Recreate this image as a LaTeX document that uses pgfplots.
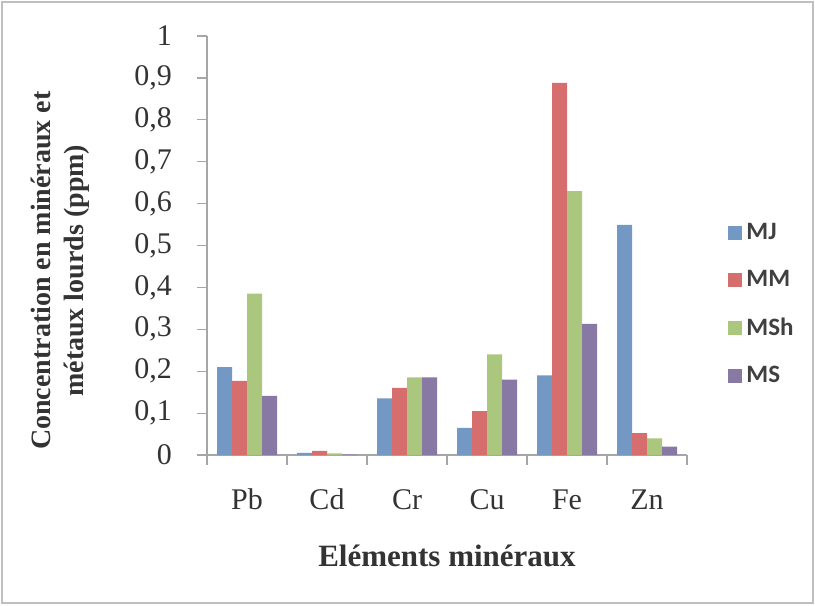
\documentclass[border=0pt]{standalone}
\usepackage{fontspec}
\setmainfont{Liberation Serif}
\newfontfamily\legfont{Carlito}
\usepackage{pgfplots}
\pgfplotsset{compat=1.18}
\definecolor{cMJ}{HTML}{7398C4}
\definecolor{cMM}{HTML}{D66E6E}
\definecolor{cMSh}{HTML}{AAC77D}
\definecolor{cMS}{HTML}{8879A4}
\begin{document}
\begin{tikzpicture}
\begin{axis}[
  scale only axis, width=240pt, height=209.5pt,
  clip=false,
  ymin=0, ymax=1, xmin=-0.5, xmax=5.5,
  ybar=0pt, bar width=7.5pt,
  axis lines*=left,
  axis line style={draw=gray!70, line width=0.6pt},
  tick style={draw=gray!70, line width=0.6pt},
  tick align=outside,
  major tick length=5pt,
  ytick={0,0.1,0.2,0.3,0.4,0.5,0.6,0.7,0.8,0.9,1},
  yticklabels={0,{0,1},{0,2},{0,3},{0,4},{0,5},{0,6},{0,7},{0,8},{0,9},1},
  xtick={-0.5,0.5,1.5,2.5,3.5,4.5,5.5},
  xticklabels={},
  extra x ticks={0,1,2,3,4,5},
  extra x tick labels={Pb,Cd,Cr,Cu,Fe,Zn},
  extra x tick style={major tick length=0pt},
  ticklabel style={font=\fontsize{15}{18}\selectfont, text=black!80},
  xticklabel style={anchor=base, yshift=-27pt},
  yticklabel style={xshift=-9pt},
  ylabel={Concentration en minéraux et\\métaux lourds (ppm)},
  ylabel style={align=center, font=\bfseries\fontsize{14}{16.5}\selectfont, text=black!80, at={(axis description cs:-0.305,0.44)}, anchor=center},
  xlabel={Eléments minéraux},
  xlabel style={font=\bfseries\fontsize{15.5}{18}\selectfont, text=black!80, at={(axis description cs:0.5,-0.267)}, anchor=base},
  legend style={at={(1,0.359)}, anchor=west, xshift=17.5pt, draw=none, fill=none,
    font=\legfont\bfseries\fontsize{12.5}{15}\selectfont, text=black!75,
    row sep=10pt, legend cell align=left},
  legend image code/.code={\fill[#1] (0pt,-3.5pt) rectangle (7pt,3.5pt);},
]
\addplot[fill=cMJ, draw=none] coordinates {(0,0.21) (1,0.005) (2,0.135) (3,0.065) (4,0.19) (5,0.549)};
\addplot[fill=cMM, draw=none] coordinates {(0,0.177) (1,0.01) (2,0.16) (3,0.105) (4,0.888) (5,0.052)};
\addplot[fill=cMSh, draw=none] coordinates {(0,0.385) (1,0.004) (2,0.185) (3,0.24) (4,0.63) (5,0.04)};
\addplot[fill=cMS, draw=none] coordinates {(0,0.141) (1,0.001) (2,0.185) (3,0.18) (4,0.313) (5,0.02)};
\legend{MJ,MM,MSh,MS}
\draw[gray!50, line width=0.8pt] ([shift={(-102.5pt,-74pt)}]rel axis cs:0,0) rectangle ([shift={(63pt,17pt)}]rel axis cs:1,1);
\path ([shift={(-103.5pt,-75pt)}]rel axis cs:0,0) rectangle ([shift={(64pt,18pt)}]rel axis cs:1,1);
\end{axis}
\end{tikzpicture}
\end{document}
